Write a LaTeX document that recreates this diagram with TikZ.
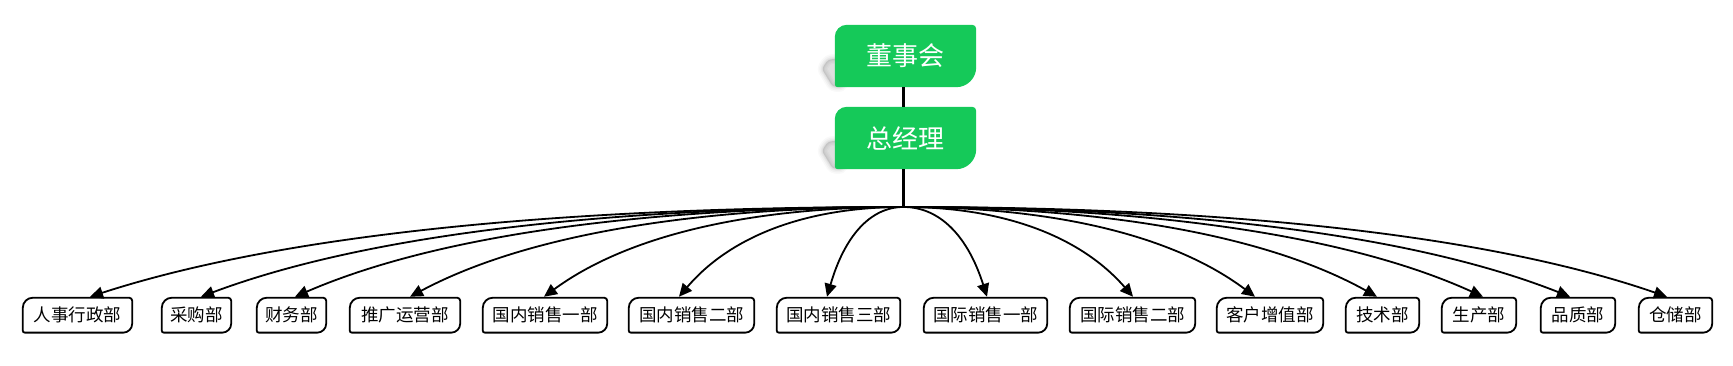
\documentclass[tikz,border=0pt]{standalone}
\usepackage{fontspec}
\newfontfamily\cjk{Noto Sans CJK SC}
\usetikzlibrary{calc,arrows.meta,backgrounds}
\definecolor{boardgreen}{RGB}{21,201,89}

\tikzset{
  leaf/.style={inner sep=0pt, minimum height=34.5pt, font=\cjk\fontsize{17.5}{19}\selectfont, text=black},
  topbox/.style={inner sep=0pt, minimum width=141pt, minimum height=62pt, font=\cjk\fontsize{26}{28}\selectfont, text=white},
  arr/.style={line width=1.8pt, -{Triangle[length=13pt,width=12pt]}},
  trunk/.style={line width=3pt},
  leafline/.style={draw=black, line width=1.8pt},
  greenfill/.style={fill=boardgreen},
}

% outline with individual corner radii: node, tl, tr, br, bl, style
\newcommand\cornerbox[6]{%
  \path[#6] let \p1=(#1.north west), \p2=(#1.south east) in
    (\x1,\y1-#2) arc[start angle=180,end angle=90,radius=#2]
    -- (\x2-#3,\y1) arc[start angle=90,end angle=0,radius=#3]
    -- (\x2,\y2+#4) arc[start angle=0,end angle=-90,radius=#4]
    -- (\x1+#5,\y2) arc[start angle=270,end angle=180,radius=#5]
    -- cycle;}

\newcommand\greenshadow[1]{%
  \foreach \w/\o in {10/0.025,7/0.03,4/0.035,2/0.04}{%
    \filldraw[black, opacity=\o, line width=\w pt, line join=round, rounded corners=3pt]
      ($(#1.north west)+(8,-33)$) -- ($(#1.north west)+(-7,-35)$)
      -- ($(#1.north west)+(-13,-44)$) -- ($(#1.north west)+(-2,-62)$)
      -- ($(#1.north west)+(8,-62)$) -- cycle;}}

\begin{document}
\begin{tikzpicture}[x=1pt,y=1pt]
\useasboundingbox (0,0) rectangle (1733,366);

% top boxes
\node[topbox] (dsh) at (905.5,310) {董事会};
\node[topbox] (zjl) at (905.5,228) {总经理};
\coordinate (hub) at (903.5,159);

\begin{scope}[on background layer]
  \greenshadow{dsh}
  \greenshadow{zjl}
  \cornerbox{dsh}{12pt}{4pt}{20pt}{3pt}{greenfill}
  \cornerbox{zjl}{12pt}{4pt}{20pt}{3pt}{greenfill}
\end{scope}

\draw[trunk] (dsh.south -| hub) -- (zjl.north -| hub);
\draw[trunk] (zjl.south -| hub) -- (hub);

% leaf boxes
\node[leaf, minimum width=109pt] (l1)  at (77.5,50.8)  {人事行政部};
\node[leaf, minimum width=69pt]  (l2)  at (196.5,50.8) {采购部};
\node[leaf, minimum width=69pt]  (l3)  at (291.5,50.8) {财务部};
\node[leaf, minimum width=110pt] (l4)  at (405,50.8)   {推广运营部};
\node[leaf, minimum width=124pt] (l5)  at (545,50.8)   {国内销售一部};
\node[leaf, minimum width=125pt] (l6)  at (691.5,50.8) {国内销售二部};
\node[leaf, minimum width=123pt] (l7)  at (838.5,50.8) {国内销售三部};
\node[leaf, minimum width=123pt] (l8)  at (985.5,50.8) {国际销售一部};
\node[leaf, minimum width=125pt] (l9)  at (1132.5,50.8){国际销售二部};
\node[leaf, minimum width=106pt] (l10) at (1270,50.8)  {客户增值部};
\node[leaf, minimum width=73pt]  (l11) at (1382.5,50.8){技术部};
\node[leaf, minimum width=74pt]  (l12) at (1479,50.8)  {生产部};
\node[leaf, minimum width=74pt]  (l13) at (1578,50.8)  {品质部};
\node[leaf, minimum width=73pt]  (l14) at (1675.5,50.8){仓储部};

\foreach \k in {1,...,14}{\cornerbox{l\k}{10pt}{3pt}{9pt}{2pt}{leafline}}

% connectors
\foreach \k/\s in {1/12.5,2/4.5,3/3.5,4/5,5/-1,6/-12.5,7/-11.5,8/1.5,9/0.5,10/-15,11/-5.5,12/4,13/-8,14/-8.5}{%
  \draw[arr] let \p1=(hub), \p2=($(l\k.north)+(\s,1)$) in
    (\p1) .. controls ({\x1+0.44*(\x2-\x1)},\y1) and ({\x2-0.2267*(\x2-\x1)},{\y2+0.6667*(\y1-\y2)}) .. (\p2);}
\end{tikzpicture}
\end{document}
